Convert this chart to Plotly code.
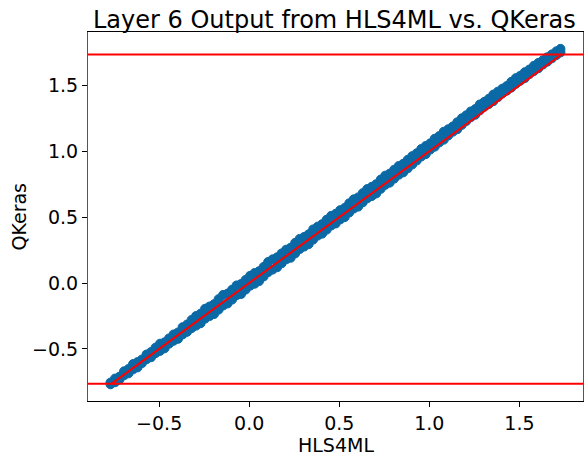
import plotly.graph_objects as go

# HLS4ML output (x) and QKeras output (y) — two samples per x position (upper/lower edge of band)
hls4ml = [-0.77, -0.745, -0.72, -0.695, -0.67, -0.645, -0.62, -0.595, -0.57, -0.545,
          -0.52, -0.495, -0.47, -0.445, -0.42, -0.395, -0.37, -0.345, -0.32,
          -0.295, -0.27, -0.245, -0.22, -0.195, -0.17, -0.145, -0.12, -0.095, -0.07,
          -0.045, -0.02, 0.005, 0.03, 0.055, 0.08, 0.105, 0.13, 0.155, 0.18,
          0.205, 0.23, 0.255, 0.28, 0.305, 0.33, 0.355, 0.38, 0.405, 0.43,
          0.455, 0.48, 0.505, 0.53, 0.555, 0.58, 0.605, 0.63, 0.655, 0.68,
          0.705, 0.73, 0.755, 0.78, 0.805, 0.83, 0.855, 0.88,
          0.905, 0.93, 0.955, 0.98, 1.005, 1.03, 1.055, 1.08, 1.105, 1.13, 1.155, 1.18,
          1.205, 1.23, 1.255, 1.28, 1.305, 1.33, 1.355, 1.38, 1.405, 1.43,
          1.455, 1.48, 1.505, 1.53, 1.555, 1.58, 1.605, 1.63, 1.655,
          1.68, 1.705, 1.728]
qkeras_hi = [-0.755, -0.725, -0.71, -0.67, -0.652, -0.615, -0.60, -0.58, -0.542, -0.523,
             -0.49, -0.46, -0.45, -0.42, -0.39, -0.375, -0.335, -0.315, -0.28,
             -0.25, -0.232, -0.195, -0.178, -0.16, -0.122, -0.09, -0.08, -0.05, -0.018,
             -0.007, 0.024, 0.055, 0.076, 0.09, 0.122, 0.16, 0.18, 0.195, 0.225,
             0.253, 0.268, 0.305, 0.335, 0.35, 0.37, 0.407, 0.428, 0.447, 0.48,
             0.51, 0.525, 0.553, 0.57, 0.605, 0.635, 0.65, 0.682, 0.713, 0.73,
             0.75, 0.785, 0.815, 0.83, 0.86, 0.888, 0.905, 0.935,
             0.963, 0.985, 1.017, 1.04, 1.06, 1.095, 1.115, 1.148, 1.167, 1.188, 1.22, 1.25,
             1.273, 1.302, 1.32, 1.355, 1.375, 1.398, 1.43, 1.452, 1.475, 1.495,
             1.527, 1.555, 1.573, 1.6, 1.62, 1.648, 1.67, 1.69, 1.713,
             1.735, 1.758, 1.777]
qkeras_lo = [-0.768, -0.753, -0.732, -0.70, -0.685, -0.655, -0.64, -0.607, -0.578, -0.563,
             -0.532, -0.515, -0.495, -0.46, -0.438, -0.423, -0.39, -0.37, -0.342,
             -0.323, -0.305, -0.27, -0.25, -0.235, -0.202, -0.17, -0.155, -0.125, -0.092,
             -0.083, -0.05, -0.02, -0.005, 0.015, 0.05, 0.083, 0.102, 0.12, 0.15,
             0.18, 0.192, 0.225, 0.258, 0.277, 0.295, 0.33, 0.36, 0.375, 0.405,
             0.437, 0.452, 0.483, 0.5, 0.535, 0.565, 0.58, 0.612, 0.643, 0.66,
             0.68, 0.715, 0.745, 0.762, 0.793, 0.822, 0.84, 0.87,
             0.9, 0.93, 0.96, 0.978, 1.013, 1.035, 1.067, 1.088, 1.12, 1.148, 1.167, 1.2,
             1.23, 1.258, 1.277, 1.31, 1.337, 1.358, 1.38, 1.41, 1.44, 1.46,
             1.483, 1.512, 1.535, 1.555, 1.585, 1.608, 1.63, 1.658, 1.68,
             1.705, 1.73, 1.75]

ref_min = -0.765   # lower red line / diagonal start
ref_max = 1.735    # upper red line / diagonal end

x_range = [-0.895, 1.853]
y_range = [-0.895, 1.905]
tick_vals = [-0.5, 0.0, 0.5, 1.0, 1.5]
tick_text = ["\u22120.5", "0.0", "0.5", "1.0", "1.5"]

FONT = "DejaVu Sans"
BLUE = "#0b69a6"

fig = go.Figure()
fig.add_trace(go.Scatter(
    x=hls4ml + hls4ml, y=qkeras_hi + qkeras_lo, mode="markers",
    marker=dict(size=9, color=BLUE, line=dict(width=1, color=BLUE)),
    showlegend=False, hoverinfo="skip"))
fig.add_trace(go.Scatter(
    x=[ref_min, ref_max], y=[ref_min, ref_max], mode="lines",
    line=dict(color="#ff0000", width=2), showlegend=False, hoverinfo="skip"))
fig.add_trace(go.Scatter(
    x=x_range, y=[ref_max, ref_max], mode="lines",
    line=dict(color="#ff0000", width=2), showlegend=False, hoverinfo="skip"))
fig.add_trace(go.Scatter(
    x=x_range, y=[ref_min, ref_min], mode="lines",
    line=dict(color="#ff0000", width=2), showlegend=False, hoverinfo="skip"))

fig.update_layout(
    width=584, height=452,
    margin=dict(l=88, r=1, t=32, b=51),
    paper_bgcolor="white", plot_bgcolor="white",
    font=dict(family=FONT, size=19, color="black"),
    title=dict(text="Layer 6 Output from HLS4ML vs. QKeras", x=0.5725, xanchor="center",
               y=0.975, yanchor="top", font=dict(size=24, family=FONT, color="black")),
    xaxis=dict(range=x_range, tickvals=tick_vals, ticktext=tick_text,
               showgrid=False, zeroline=False, ticks="outside", ticklen=5, tickwidth=1,
               tickcolor="black", showline=True, linecolor="black", linewidth=1, mirror=True,
               tickfont=dict(size=19), automargin=False),
    yaxis=dict(range=y_range, tickvals=tick_vals, ticktext=tick_text,
               showgrid=False, zeroline=False, ticks="outside", ticklen=5, tickwidth=1,
               tickcolor="black", showline=True, linecolor="#555555", linewidth=1, mirror=True,
               tickfont=dict(size=19), automargin=False),
    annotations=[
        dict(text="HLS4ML", xref="paper", yref="paper", x=0.5, y=-0.119, height=20,
             borderpad=0, xanchor="center", yanchor="middle", showarrow=False,
             font=dict(size=19, family=FONT, color="black")),
        dict(text="QKeras", xref="paper", yref="paper", x=-0.1414, y=0.5,
             xanchor="center", yanchor="middle", textangle=-90, showarrow=False,
             font=dict(size=19, family=FONT, color="black")),
    ],
)

fig.write_html("out.html")
